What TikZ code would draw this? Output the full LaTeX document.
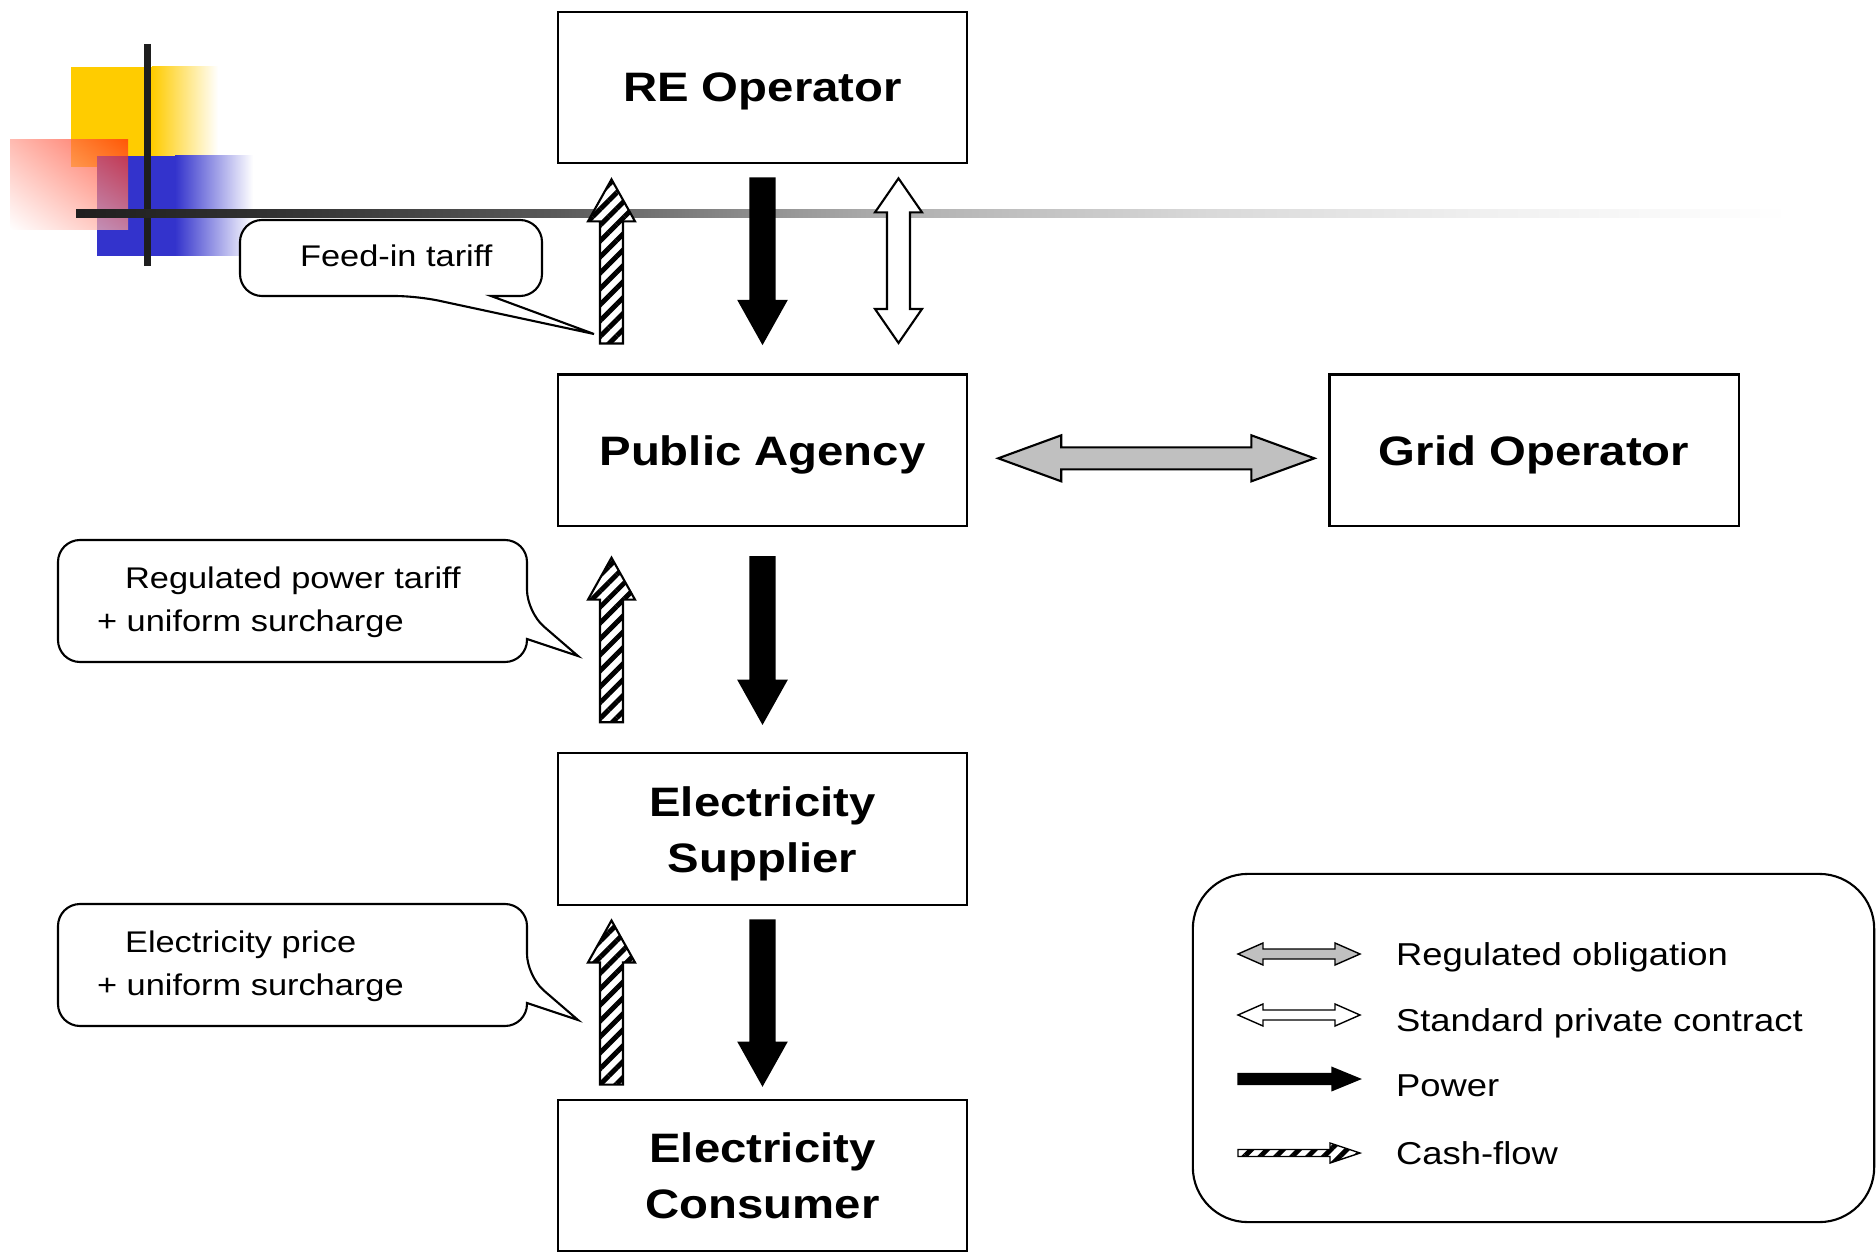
\documentclass[tikz,border=0pt]{standalone}
\usepackage{fontspec}
\setmainfont{Liberation Sans}[FakeStretch=1.15]
\usetikzlibrary{positioning,calc,patterns.meta,shadings}

\definecolor{decoyellow}{RGB}{255,204,0}
\definecolor{decoblue}{RGB}{51,51,204}
\definecolor{decored}{RGB}{255,40,10}
\definecolor{decoline}{RGB}{30,30,30}
\definecolor{reggray}{RGB}{192,192,192}

\pgfdeclarehorizontalshading{barfade}{100bp}{color(0bp)=(black!88); color(25bp)=(black!88); color(31bp)=(black!80); color(39bp)=(black!65); color(46bp)=(black!40); color(49bp)=(black!31); color(58bp)=(black!15); color(66bp)=(black!6); color(75bp)=(white); color(100bp)=(white)}

\tikzset{
  ba shaft/.store in=\bashaft,
  ba head/.store in=\bahead,
  ba len/.store in=\balen,
  ba shaft=0.115cm, ba head=0.235cm, ba len=0.42cm
}

\begin{document}
\begin{tikzpicture}[x=0.01cm, y=-0.01cm, semithick]
	  \tikzstyle{box}=[draw=black, minimum width=4.09cm, minimum height=1.515cm, align=center, text depth=0pt, font=\fontsize{11.7}{15.9}\selectfont\bfseries]
	  \tikzstyle{single block}=[to path={
	      ($(\tikztotarget)!\balen!(\tikztostart)$) coordinate (bah)
	      ($(\tikztostart)!\bashaft!90:(\tikztotarget)$)
	      -- ($(bah)!\bashaft!90:(\tikztotarget)$)
	      -- ($(bah)!\bahead!90:(\tikztotarget)$)
	      -- (\tikztotarget)
	      -- ($(bah)!\bahead!-90:(\tikztotarget)$)
	      -- ($(bah)!\bashaft!-90:(\tikztotarget)$)
	      -- ($(\tikztostart)!\bashaft!-90:(\tikztotarget)$)
	      -- cycle}]
	  \tikzstyle{double block}=[to path={
	      ($(\tikztostart)!\balen!(\tikztotarget)$) coordinate (bas)
	      ($(\tikztotarget)!\balen!(\tikztostart)$) coordinate (bat)
	      (\tikztostart)
	      -- ($(bas)!\bahead!90:(\tikztotarget)$)
	      -- ($(bas)!\bashaft!90:(\tikztotarget)$)
	      -- ($(bat)!\bashaft!90:(\tikztotarget)$)
	      -- ($(bat)!\bahead!90:(\tikztotarget)$)
	      -- (\tikztotarget)
	      -- ($(bat)!\bahead!-90:(\tikztotarget)$)
	      -- ($(bat)!\bashaft!-90:(\tikztotarget)$)
	      -- ($(bas)!\bashaft!-90:(\tikztotarget)$)
	      -- ($(bas)!\bahead!-90:(\tikztotarget)$)
	      -- cycle}]
	  \tikzstyle{power}=[single block, draw=black, fill=black, ba shaft=0.12cm, ba head=0.235cm, ba len=0.42cm]
	  \tikzstyle{cashflow}=[single block, draw=black, preaction={fill=white}, pattern={Lines[angle=45,distance=3.2pt,line width=1.4pt]}, ba shaft=0.115cm, ba head=0.235cm, ba len=0.42cm]
	  \tikzstyle{contract}=[double block, draw=black, fill=white, ba shaft=0.115cm, ba head=0.235cm, ba len=0.34cm]
	  \tikzstyle{obligation}=[double block, draw=black, fill=reggray, ba shaft=0.11cm, ba head=0.23cm, ba len=0.63cm]
	  \tikzstyle{callout}=[draw=black, fill=white]
	  \tikzstyle{calltext}=[inner sep=0pt, anchor=base west, align=left, font=\fontsize{8.5}{12.1}\selectfont]
	  \tikzstyle{legtext}=[inner sep=0pt, anchor=base west, font=\fontsize{9}{11}\selectfont]

	  \useasboundingbox (0,0) rectangle (1876,1255);

	  % slide logo
	  \fill[decoyellow] (71,67) rectangle (153,167);
	  \shade[left color=decoyellow, right color=white] (152,67) rectangle (218,167);
	  \fill[decoblue] (97,156) rectangle (176,256);
	  \shade[left color=decoblue, right color=white] (175,156) rectangle (253,256);
	  \shade[fill opacity=0.7, upper right=decored, upper left=decored!45!white, lower right=decored!45!white, lower left=white] (10,140) rectangle (128,230);
	  \draw[decoline, line width=0.07cm] (147.5,44) -- (147.5,266);
	  \shade[shading=barfade] (76,210) rectangle (1790,218);

	  \node[box] (re) at (762.5,87.5) {RE Operator};
	  \node[box] (pa) [below=2.09cm of re] {Public Agency};
	  \node[box] (grid) [right=3.60cm of pa] {Grid Operator};
	  \node[box] (sup) [below=2.25cm of pa] {Electricity\\Supplier};
	  \node[box] (con) [below=1.925cm of sup] {Electricity\\Consumer};

	  % RE operator <-> public agency
	  \coordinate (c1s) at ($(pa.north)+(-151,-30)$);
	  \coordinate (c1e) at ($(re.south)+(-151,15)$);
	  \coordinate (p1s) at ($(re.south)+(0,14)$);
	  \coordinate (p1e) at ($(pa.north)+(0,-30.5)$);
	  \coordinate (k1s) at ($(re.south)+(136,14)$);
	  \coordinate (k1e) at ($(pa.north)+(136,-30.5)$);
	  \draw[cashflow] (c1s) to (c1e);
	  \draw[power] (p1s) to (p1e);
	  \draw[contract] (k1s) to (k1e);

	  % public agency <-> grid operator
	  \coordinate (g1s) at ($(pa.east)+(30,8)$);
	  \coordinate (g1e) at ($(grid.west)+(-14,8)$);
	  \draw[obligation] (g1s) to (g1e);

	  % public agency <-> supplier
	  \coordinate (c2s) at ($(sup.north)+(-151,-30)$);
	  \coordinate (c2e) at ($(pa.south)+(-151,30.5)$);
	  \coordinate (p2s) at ($(pa.south)+(0,30)$);
	  \coordinate (p2e) at ($(sup.north)+(0,-29.5)$);
	  \draw[cashflow] (c2s) to (c2e);
	  \draw[power] (p2s) to (p2e);

	  % supplier <-> consumer
	  \coordinate (c3s) at ($(con.north)+(-151,-14)$);
	  \coordinate (c3e) at ($(sup.south)+(-151,14.5)$);
	  \coordinate (p3s) at ($(sup.south)+(0,14.5)$);
	  \coordinate (p3e) at ($(con.north)+(0,-14)$);
	  \draw[cashflow] (c3s) to (c3e);
	  \draw[power] (p3s) to (p3e);

	  % callouts
	  \draw[callout] (594,334) -- (491,296) [rounded corners=0.22cm] -- (542,296) -- (542,220) -- (240,220) -- (240,296) -- (417,296) [sharp corners] -- cycle;
	  \node[calltext] (fit) at (299,267) {Feed-in tariff};

	  \draw[callout] (578,656) -- (527,639) [rounded corners=0.22cm] -- (527,662) -- (58,662) -- (58,540) -- (527,540) -- (527,612) [sharp corners] -- cycle;
	  \node[calltext] (rpt) at (96,631) {\hspace*{0.28cm}Regulated power tariff\\+ uniform surcharge};

	  \draw[callout] (578,1020) -- (527,1003) [rounded corners=0.22cm] -- (527,1026) -- (58,1026) -- (58,904) -- (527,904) -- (527,976) [sharp corners] -- cycle;
	  \node[calltext] (eps) at (96,995) {\hspace*{0.28cm}Electricity price\\+ uniform surcharge};

	  % legend
	  \node[draw=black, rounded corners=0.55cm, minimum width=6.81cm, minimum height=3.48cm] (leg) at (1533.5,1048) {};
	  \coordinate (l1s) at (1238,954);  \coordinate (l1e) at (1360,954);
	  \coordinate (l2s) at (1238,1015); \coordinate (l2e) at (1360,1015);
	  \coordinate (l3s) at (1238,1079); \coordinate (l3e) at (1360,1079);
	  \coordinate (l4s) at (1238,1153); \coordinate (l4e) at (1360,1153);
	  \draw[obligation, thin, ba shaft=0.05cm, ba head=0.11cm, ba len=0.25cm] (l1s) to (l1e);
	  \draw[contract, thin, ba shaft=0.05cm, ba head=0.11cm, ba len=0.25cm] (l2s) to (l2e);
	  \draw[power, thin, ba shaft=0.055cm, ba head=0.115cm, ba len=0.28cm] (l3s) to (l3e);
	  \draw[cashflow, thin, ba shaft=0.035cm, ba head=0.10cm, ba len=0.30cm] (l4s) to (l4e);
	  \node[legtext] (lt1) at (1395,965) {Regulated obligation};
	  \node[legtext] (lt2) at (1395,1031) {Standard private contract};
	  \node[legtext] (lt3) at (1395,1096) {Power};
	  \node[legtext] (lt4) at (1395,1164) {Cash-flow};
\end{tikzpicture}
\end{document}
